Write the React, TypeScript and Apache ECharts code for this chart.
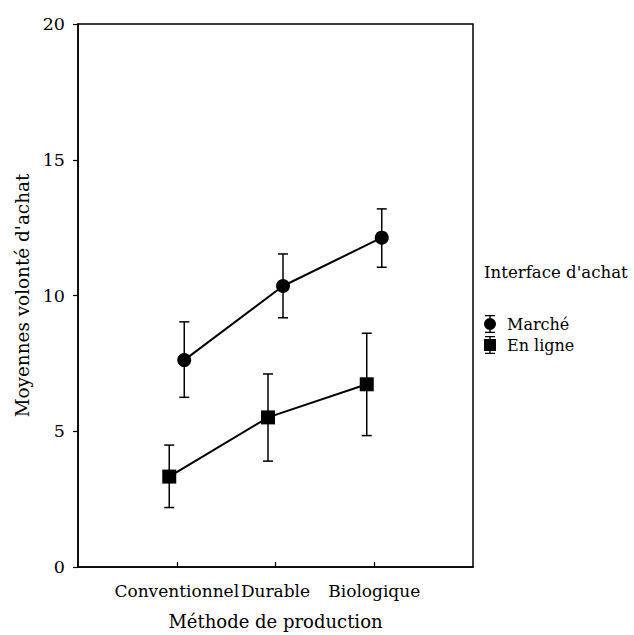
import React, { useEffect, useRef } from "react";
import * as echarts from "echarts";

const categories = ["Conventionnel", "Durable", "Biologique"];
const categoryPositions = [1, 2, 3];
const seriesNames = ["Marché", "En ligne"];
const marcheMean = [7.62, 10.35, 12.13];
const marcheLow = [6.25, 9.18, 11.04];
const marcheHigh = [9.03, 11.53, 13.19];
const enLigneMean = [3.33, 5.51, 6.73];
const enLigneLow = [2.19, 3.9, 4.84];
const enLigneHigh = [4.49, 7.11, 8.61];
const yTicks = [0, 5, 10, 15, 20];

const FONT = "DejaVu Serif";
const DODGE = 0.076;

const circleIcon =
  "path://M1,0 H11 V1.3 H6.7 V3 H5.3 V1.3 H1 Z M6,3 A6,6 0 1,1 6,15 A6,6 0 1,1 6,3 Z M5.3,15 H6.7 V16.7 H11 V18 H1 V16.7 H5.3 Z";
const squareIcon =
  "path://M1,0 H11 V1.3 H6.7 V3 H5.3 V1.3 H1 Z M0,3 H12 V15 H0 Z M5.3,15 H6.7 V16.7 H11 V18 H1 V16.7 H5.3 Z";

function errorSeries(name: string, offset: number, low: number[], high: number[]) {
  const data = categoryPositions.map((p, i) => [p + offset, low[i], high[i]]);
  return {
    type: "custom",
    name,
    z: 1,
    silent: true,
    data,
    encode: { x: 0, y: [1, 2] },
    renderItem: (params: any, api: any) => {
      const x = api.value(0);
      const lo = api.coord([x, api.value(1)]);
      const hi = api.coord([x, api.value(2)]);
      const half = 5;
      const style = { stroke: "#000", lineWidth: 1.5 };
      return {
        type: "group",
        children: [
          { type: "line", shape: { x1: lo[0], y1: lo[1], x2: hi[0], y2: hi[1] }, style },
          { type: "line", shape: { x1: hi[0] - half, y1: hi[1], x2: hi[0] + half, y2: hi[1] }, style },
          { type: "line", shape: { x1: lo[0] - half, y1: lo[1], x2: lo[0] + half, y2: lo[1] }, style },
        ],
      };
    },
  };
}

export default function App() {
  const ref = useRef<HTMLDivElement>(null);
  useEffect(() => {
    if (!ref.current) return;
    const chart = echarts.init(ref.current, null, { renderer: "svg" });
    chart.setOption({
      animation: false,
      backgroundColor: "#fff",
      textStyle: { fontFamily: FONT, color: "#000" },
      grid: {
        left: 78,
        right: 161,
        top: 24,
        bottom: 68,
        show: true,
        borderColor: "#000",
        borderWidth: 1.5,
        backgroundColor: "transparent",
      },
      xAxis: {
        type: "value",
        min: 0,
        max: 4,
        interval: 1,
        name: "Méthode de production",
        nameLocation: "middle",
        nameGap: 45,
        nameTextStyle: { fontFamily: FONT, fontSize: 18, color: "#000" },
        axisLine: { show: true, lineStyle: { color: "#000", width: 1.5 } },
        axisTick: {
          show: true,
          inside: true,
          length: 5,
          customValues: categoryPositions,
          lineStyle: { color: "#000", width: 1.2 },
        },
        axisLabel: {
          show: true,
          customValues: categoryPositions,
          margin: 15,
          fontFamily: FONT,
          fontSize: 17,
          color: "#000",
          formatter: (v: number) => categories[categoryPositions.indexOf(Math.round(v))] ?? "",
        },
        splitLine: { show: false },
      },
      yAxis: {
        type: "value",
        min: 0,
        max: 20,
        interval: 5,
        name: "Moyennes volonté d'achat",
        nameLocation: "middle",
        nameGap: 45,
        nameTextStyle: { fontFamily: FONT, fontSize: 18.4, color: "#000" },
        axisLine: { show: true, lineStyle: { color: "#000", width: 1.5 } },
        axisTick: { show: true, inside: false, length: 5, lineStyle: { color: "#000", width: 1.2 } },
        axisLabel: {
          margin: 13,
          fontFamily: FONT,
          fontSize: 17.5,
          color: "#000",
          customValues: yTicks,
        },
        splitLine: { show: false },
      },
      legend: {
        orient: "vertical",
        left: 484,
        top: 315,
        padding: 0,
        itemWidth: 12,
        itemHeight: 18,
        itemGap: 3,
        selectedMode: false,
        textStyle: { fontFamily: FONT, fontSize: 16, color: "#000", padding: [0, 0, 0, 6], lineHeight: 18 },
        data: [
          { name: seriesNames[0], icon: circleIcon },
          { name: seriesNames[1], icon: squareIcon },
        ],
      },
      graphic: [
        {
          type: "text",
          left: 484,
          top: 264,
          style: {
            text: "Interface d'achat",
            fontFamily: FONT,
            fontSize: 16.6,
            fill: "#000",
          },
        },
      ],
      series: [
        errorSeries("err-marche", DODGE, marcheLow, marcheHigh),
        errorSeries("err-enligne", -DODGE, enLigneLow, enLigneHigh),
        {
          type: "line",
          name: seriesNames[0],
          z: 3,
          data: categoryPositions.map((p, i) => [p + DODGE, marcheMean[i]]),
          symbol: "circle",
          symbolSize: 14,
          itemStyle: { color: "#000" },
          lineStyle: { color: "#000", width: 2 },
        },
        {
          type: "line",
          name: seriesNames[1],
          z: 3,
          data: categoryPositions.map((p, i) => [p - DODGE, enLigneMean[i]]),
          symbol: "rect",
          symbolSize: 14,
          itemStyle: { color: "#000" },
          lineStyle: { color: "#000", width: 2 },
        },
      ],
    });
    return () => chart.dispose();
  }, []);
  return (
    <div
      ref={ref}
      style={{ position: "fixed", left: 0, top: 0, width: 634, height: 635, background: "#fff" }}
    />
  );
}
